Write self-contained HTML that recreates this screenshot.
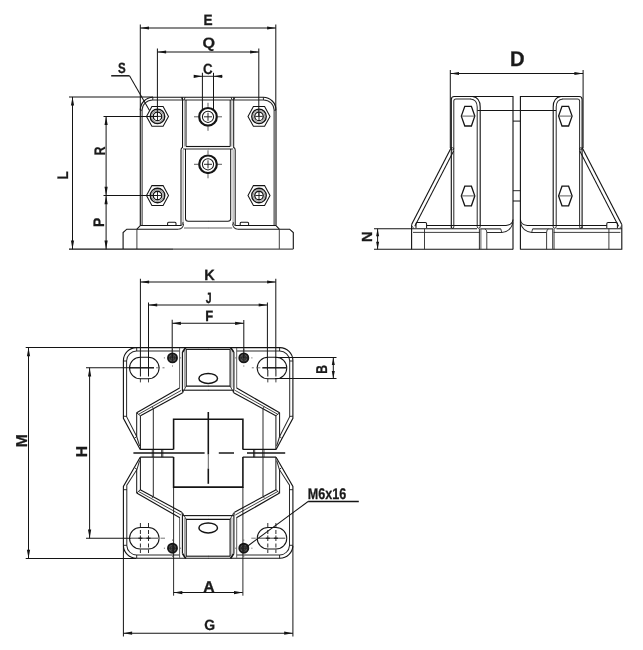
<!DOCTYPE html>
<html><head><meta charset="utf-8"><title>Drawing</title>
<style>
html,body{margin:0;padding:0;background:#fff;}
svg{display:block;will-change:transform;}
text{font-family:"Liberation Sans","DejaVu Sans",sans-serif;font-weight:bold;fill:#1a1a1a;stroke:#1a1a1a;stroke-width:0.3px;text-rendering:geometricPrecision;}
</style></head><body>
<svg width="643" height="650" viewBox="0 0 643 650">
<rect width="643" height="650" fill="#fff"/>
<path d="M123.1,249 V232.6 L126.8,229.2 H178.3" stroke="#141414" stroke-width="1.12" fill="none" />
<path d="M237.9,229.2 H289.6 L293.3,232.6 V249" stroke="#141414" stroke-width="1.12" fill="none" />
<line x1="136.90" y1="229.20" x2="136.90" y2="249.00" stroke="#2a2a2a" stroke-width="0.90" />
<line x1="279.30" y1="229.20" x2="279.30" y2="249.00" stroke="#2a2a2a" stroke-width="0.90" />
<line x1="69.00" y1="249.10" x2="173.00" y2="249.10" stroke="#141414" stroke-width="1.12" />
<line x1="173.00" y1="249.10" x2="293.30" y2="249.10" stroke="#4c4c4c" stroke-width="1.12" />
<path d="M136.9,229.2 L140.3,225.6 V110 A12.7,12.7 0 0 1 153,97.3 H263.3 A12.7,12.7 0 0 1 276,110 V225.6 L279.3,229.2" stroke="#141414" stroke-width="1.12" fill="none" />
<path d="M142.1,226 V110 A10.6,10.1 0 0 1 152.7,99.9 H263.5 A10.6,10.1 0 0 1 274.1,110 V226" stroke="#2a2a2a" stroke-width="1.01" fill="none" />
<line x1="152.90" y1="97.30" x2="152.70" y2="99.90" stroke="#141414" stroke-width="0.90" />
<line x1="263.30" y1="97.30" x2="263.50" y2="99.90" stroke="#141414" stroke-width="0.90" />
<line x1="140.30" y1="110.20" x2="142.10" y2="110.20" stroke="#141414" stroke-width="0.90" />
<line x1="274.10" y1="110.20" x2="276.00" y2="110.20" stroke="#141414" stroke-width="0.90" />
<line x1="140.30" y1="225.60" x2="181.00" y2="225.60" stroke="#141414" stroke-width="1.01" />
<line x1="235.20" y1="225.60" x2="276.00" y2="225.60" stroke="#141414" stroke-width="1.01" />
<line x1="182.50" y1="97.30" x2="182.50" y2="148.00" stroke="#141414" stroke-width="1.01" />
<line x1="184.30" y1="100.30" x2="184.30" y2="146.60" stroke="#808080" stroke-width="0.78" />
<line x1="186.00" y1="100.00" x2="186.00" y2="146.50" stroke="#141414" stroke-width="1.01" />
<line x1="186.00" y1="146.50" x2="208.20" y2="146.50" stroke="#141414" stroke-width="1.12" />
<line x1="183.00" y1="149.00" x2="208.20" y2="149.00" stroke="#2a2a2a" stroke-width="1.01" />
<path d="M182.5,147.5 Q181,148 181,150 V225.6" stroke="#141414" stroke-width="1.01" fill="none" />
<line x1="183.10" y1="150.00" x2="183.10" y2="223.00" stroke="#808080" stroke-width="0.78" />
<path d="M185.5,149 V218.5 Q185.5,221.3 188.3,221.3 H208.2" stroke="#141414" stroke-width="1.01" fill="none" />
<line x1="184.00" y1="228.00" x2="208.20" y2="228.00" stroke="#4c4c4c" stroke-width="0.90" />
<path d="M178.3,229.2 Q183.3,229 183.6,223.5" stroke="#2a2a2a" stroke-width="1.01" fill="none" />
<path d="M181,225.6 Q183,225 183.1,222" stroke="#2a2a2a" stroke-width="0.90" fill="none" />
<g transform="translate(416.20,0) scale(-1,1)">
<line x1="182.50" y1="97.30" x2="182.50" y2="148.00" stroke="#141414" stroke-width="1.01" />
<line x1="184.30" y1="100.30" x2="184.30" y2="146.60" stroke="#808080" stroke-width="0.78" />
<line x1="186.00" y1="100.00" x2="186.00" y2="146.50" stroke="#141414" stroke-width="1.01" />
<line x1="186.00" y1="146.50" x2="208.20" y2="146.50" stroke="#141414" stroke-width="1.12" />
<line x1="183.00" y1="149.00" x2="208.20" y2="149.00" stroke="#2a2a2a" stroke-width="1.01" />
<path d="M182.5,147.5 Q181,148 181,150 V225.6" stroke="#141414" stroke-width="1.01" fill="none" />
<line x1="183.10" y1="150.00" x2="183.10" y2="223.00" stroke="#808080" stroke-width="0.78" />
<path d="M185.5,149 V218.5 Q185.5,221.3 188.3,221.3 H208.2" stroke="#141414" stroke-width="1.01" fill="none" />
<line x1="184.00" y1="228.00" x2="208.20" y2="228.00" stroke="#4c4c4c" stroke-width="0.90" />
<path d="M178.3,229.2 Q183.3,229 183.6,223.5" stroke="#2a2a2a" stroke-width="1.01" fill="none" />
<path d="M181,225.6 Q183,225 183.1,222" stroke="#2a2a2a" stroke-width="0.90" fill="none" />
</g>
<line x1="181.30" y1="97.30" x2="182.50" y2="100.00" stroke="#141414" stroke-width="0.90" />
<line x1="185.20" y1="97.30" x2="184.00" y2="100.00" stroke="#141414" stroke-width="0.90" />
<line x1="231.00" y1="97.30" x2="232.20" y2="100.00" stroke="#141414" stroke-width="0.90" />
<line x1="234.90" y1="97.30" x2="233.70" y2="100.00" stroke="#141414" stroke-width="0.90" />
<path d="M167.6,225.6 V223.2 Q167.6,222.2 168.6,222.2 H175 Q176,222.2 176,223.2 V225.6" stroke="#141414" stroke-width="1.01" fill="none" />
<path d="M240.2,225.6 V223.2 Q240.2,222.2 241.2,222.2 H247.6 Q248.6,222.2 248.6,223.2 V225.6" stroke="#141414" stroke-width="1.01" fill="none" />
<polygon points="168.50,116.40 163.10,106.50 151.90,106.50 146.50,116.40 151.90,126.30 163.10,126.30" fill="none" stroke="#141414" stroke-width="1.05"/>
<circle cx="157.50" cy="116.40" r="7.25" stroke="#141414" stroke-width="1.40" fill="none"/>
<circle cx="157.50" cy="116.40" r="5.85" stroke="#4c4c4c" stroke-width="0.62" fill="none"/>
<circle cx="157.50" cy="116.40" r="4.25" stroke="#141414" stroke-width="1.29" fill="none"/>
<line x1="153.90" y1="116.40" x2="161.10" y2="116.40" stroke="#141414" stroke-width="0.90" />
<line x1="157.50" y1="112.80" x2="157.50" y2="120.00" stroke="#141414" stroke-width="0.90" />
<polygon points="168.50,195.50 163.10,185.60 151.90,185.60 146.50,195.50 151.90,205.40 163.10,205.40" fill="none" stroke="#141414" stroke-width="1.05"/>
<circle cx="157.50" cy="195.50" r="7.25" stroke="#141414" stroke-width="1.40" fill="none"/>
<circle cx="157.50" cy="195.50" r="5.85" stroke="#4c4c4c" stroke-width="0.62" fill="none"/>
<circle cx="157.50" cy="195.50" r="4.25" stroke="#141414" stroke-width="1.29" fill="none"/>
<line x1="153.90" y1="195.50" x2="161.10" y2="195.50" stroke="#141414" stroke-width="0.90" />
<line x1="157.50" y1="191.90" x2="157.50" y2="199.10" stroke="#141414" stroke-width="0.90" />
<polygon points="270.00,116.40 264.60,106.50 253.40,106.50 248.00,116.40 253.40,126.30 264.60,126.30" fill="none" stroke="#141414" stroke-width="1.05"/>
<circle cx="259.00" cy="116.40" r="7.25" stroke="#141414" stroke-width="1.40" fill="none"/>
<circle cx="259.00" cy="116.40" r="5.85" stroke="#4c4c4c" stroke-width="0.62" fill="none"/>
<circle cx="259.00" cy="116.40" r="4.25" stroke="#141414" stroke-width="1.29" fill="none"/>
<line x1="255.40" y1="116.40" x2="262.60" y2="116.40" stroke="#141414" stroke-width="0.90" />
<line x1="259.00" y1="112.80" x2="259.00" y2="120.00" stroke="#141414" stroke-width="0.90" />
<polygon points="270.00,195.50 264.60,185.60 253.40,185.60 248.00,195.50 253.40,205.40 264.60,205.40" fill="none" stroke="#141414" stroke-width="1.05"/>
<circle cx="259.00" cy="195.50" r="7.25" stroke="#141414" stroke-width="1.40" fill="none"/>
<circle cx="259.00" cy="195.50" r="5.85" stroke="#4c4c4c" stroke-width="0.62" fill="none"/>
<circle cx="259.00" cy="195.50" r="4.25" stroke="#141414" stroke-width="1.29" fill="none"/>
<line x1="255.40" y1="195.50" x2="262.60" y2="195.50" stroke="#141414" stroke-width="0.90" />
<line x1="259.00" y1="191.90" x2="259.00" y2="199.10" stroke="#141414" stroke-width="0.90" />
<circle cx="208.00" cy="116.80" r="8.80" stroke="#141414" stroke-width="2.24" fill="none"/>
<circle cx="208.00" cy="116.80" r="5.60" stroke="#141414" stroke-width="1.01" fill="none"/>
<line x1="204.00" y1="116.80" x2="212.00" y2="116.80" stroke="#141414" stroke-width="0.90" />
<line x1="208.00" y1="112.80" x2="208.00" y2="120.80" stroke="#141414" stroke-width="0.90" />
<line x1="218.00" y1="116.80" x2="222.00" y2="116.80" stroke="#4c4c4c" stroke-width="0.90" />
<line x1="198.00" y1="116.80" x2="194.00" y2="116.80" stroke="#4c4c4c" stroke-width="0.90" />
<line x1="208.00" y1="126.80" x2="208.00" y2="130.80" stroke="#4c4c4c" stroke-width="0.90" />
<line x1="208.00" y1="106.80" x2="208.00" y2="102.80" stroke="#4c4c4c" stroke-width="0.90" />
<circle cx="208.00" cy="164.30" r="8.80" stroke="#141414" stroke-width="2.24" fill="none"/>
<circle cx="208.00" cy="164.30" r="5.60" stroke="#141414" stroke-width="1.01" fill="none"/>
<line x1="204.00" y1="164.30" x2="212.00" y2="164.30" stroke="#141414" stroke-width="0.90" />
<line x1="208.00" y1="160.30" x2="208.00" y2="168.30" stroke="#141414" stroke-width="0.90" />
<line x1="218.00" y1="164.30" x2="222.00" y2="164.30" stroke="#4c4c4c" stroke-width="0.90" />
<line x1="198.00" y1="164.30" x2="194.00" y2="164.30" stroke="#4c4c4c" stroke-width="0.90" />
<line x1="208.00" y1="174.30" x2="208.00" y2="178.30" stroke="#4c4c4c" stroke-width="0.90" />
<line x1="208.00" y1="154.30" x2="208.00" y2="150.30" stroke="#4c4c4c" stroke-width="0.90" />
<line x1="140.30" y1="24.50" x2="140.30" y2="110.00" stroke="#141414" stroke-width="1.01" />
<line x1="275.80" y1="24.50" x2="275.80" y2="110.00" stroke="#141414" stroke-width="1.01" />
<line x1="140.30" y1="28.00" x2="275.80" y2="28.00" stroke="#141414" stroke-width="1.01" />
<polygon points="140.30,28.00 149.00,26.40 149.00,29.60" fill="#141414"/>
<polygon points="275.80,28.00 267.10,29.60 267.10,26.40" fill="#141414"/>
<line x1="157.40" y1="48.50" x2="157.40" y2="116.00" stroke="#141414" stroke-width="1.01" />
<line x1="258.80" y1="48.50" x2="258.80" y2="116.00" stroke="#141414" stroke-width="1.01" />
<line x1="157.40" y1="52.00" x2="258.80" y2="52.00" stroke="#141414" stroke-width="1.01" />
<polygon points="157.40,52.00 166.10,50.40 166.10,53.60" fill="#141414"/>
<polygon points="258.80,52.00 250.10,53.60 250.10,50.40" fill="#141414"/>
<line x1="202.40" y1="72.80" x2="202.40" y2="109.00" stroke="#141414" stroke-width="1.01" />
<line x1="213.50" y1="72.80" x2="213.50" y2="109.00" stroke="#141414" stroke-width="1.01" />
<line x1="194.00" y1="76.30" x2="222.40" y2="76.30" stroke="#141414" stroke-width="0.90" />
<polygon points="202.40,76.30 193.70,77.90 193.70,74.70" fill="#141414"/>
<polygon points="213.50,76.30 222.20,74.70 222.20,77.90" fill="#141414"/>
<line x1="111.20" y1="75.80" x2="129.50" y2="75.80" stroke="#141414" stroke-width="1.46" />
<line x1="129.50" y1="75.80" x2="149.50" y2="110.50" stroke="#141414" stroke-width="1.01" />
<line x1="69.00" y1="96.90" x2="153.00" y2="96.90" stroke="#141414" stroke-width="1.01" />
<line x1="72.50" y1="96.90" x2="72.50" y2="249.20" stroke="#141414" stroke-width="1.01" />
<polygon points="72.50,96.90 74.10,105.60 70.90,105.60" fill="#141414"/>
<polygon points="72.50,249.20 70.90,240.50 74.10,240.50" fill="#141414"/>
<line x1="103.50" y1="116.40" x2="157.40" y2="116.40" stroke="#141414" stroke-width="1.01" />
<line x1="103.50" y1="195.50" x2="157.40" y2="195.50" stroke="#141414" stroke-width="1.01" />
<line x1="106.10" y1="116.40" x2="106.10" y2="195.50" stroke="#141414" stroke-width="1.01" />
<polygon points="106.10,116.40 107.70,125.10 104.50,125.10" fill="#141414"/>
<polygon points="106.10,195.50 104.50,186.80 107.70,186.80" fill="#141414"/>
<line x1="106.10" y1="195.50" x2="106.10" y2="249.20" stroke="#141414" stroke-width="1.01" />
<polygon points="106.10,195.50 107.70,204.20 104.50,204.20" fill="#141414"/>
<polygon points="106.10,249.20 104.50,240.50 107.70,240.50" fill="#141414"/>
<path d="M451.3,228 V99.5 Q451.3,96.5 454.3,96.5 H513 V249.5" stroke="#141414" stroke-width="1.12" fill="none" />
<path d="M453.8,226.5 V101 Q453.8,99 456,99 H471" stroke="#2a2a2a" stroke-width="1.01" fill="none" />
<path d="M451.3,226.5 Q451.3,228.3 452.6,228.3 Q453.8,228.3 453.8,226.5" stroke="#141414" stroke-width="0.90" fill="none" />
<path d="M472.5,96.5 Q480.2,97.5 480.2,107 V226.5" stroke="#141414" stroke-width="1.12" fill="none" />
<path d="M470.5,99 Q477.2,99.5 477.2,107 V226.5" stroke="#2a2a2a" stroke-width="1.01" fill="none" />
<path d="M477.2,226.5 Q477.2,228.3 478.7,228.3 Q480.2,228.3 480.2,226.5" stroke="#141414" stroke-width="0.90" fill="none" />
<line x1="477.40" y1="110.50" x2="513.00" y2="110.50" stroke="#141414" stroke-width="1.01" />
<polygon points="461.30,116.10 464.80,106.40 471.40,106.40 474.80,116.10 471.40,126.00 464.80,126.00" fill="none" stroke="#141414" stroke-width="1.3"/>
<line x1="461.50" y1="116.10" x2="474.50" y2="116.10" stroke="#4c4c4c" stroke-width="0.90" />
<polygon points="461.30,195.90 464.80,186.20 471.40,186.20 474.80,195.90 471.40,205.80 464.80,205.80" fill="none" stroke="#141414" stroke-width="1.3"/>
<line x1="461.50" y1="195.90" x2="474.50" y2="195.90" stroke="#4c4c4c" stroke-width="0.90" />
<line x1="451.30" y1="147.50" x2="411.60" y2="224.50" stroke="#141414" stroke-width="1.12" />
<line x1="453.60" y1="151.00" x2="414.80" y2="226.20" stroke="#141414" stroke-width="1.01" />
<circle cx="452.60" cy="148.80" r="1.10" stroke="#141414" stroke-width="0.78" fill="none"/>
<path d="M411.6,224.5 V249.3 H513" stroke="#141414" stroke-width="1.12" fill="none" />
<line x1="411.60" y1="228.80" x2="477.00" y2="228.80" stroke="#141414" stroke-width="1.12" />
<line x1="480.30" y1="228.90" x2="500.80" y2="228.90" stroke="#141414" stroke-width="1.01" />
<path d="M484.9,228.9 Q486.8,229.5 486.8,232.4" stroke="#2a2a2a" stroke-width="0.90" fill="none" />
<line x1="413.00" y1="232.40" x2="479.80" y2="232.40" stroke="#2a2a2a" stroke-width="0.90" />
<path d="M486.8,232.4 H501.7 Q511,231.5 513,222.5" stroke="#2a2a2a" stroke-width="1.01" fill="none" />
<path d="M426.6,225.4 H506 Q512.6,225 513,219.5" stroke="#141414" stroke-width="1.01" fill="none" />
<line x1="500.80" y1="228.90" x2="501.70" y2="232.40" stroke="#2a2a2a" stroke-width="0.90" />
<line x1="424.50" y1="228.80" x2="424.50" y2="249.30" stroke="#2a2a2a" stroke-width="0.90" />
<line x1="479.40" y1="228.80" x2="479.40" y2="249.30" stroke="#141414" stroke-width="0.90" />
<line x1="480.90" y1="228.80" x2="480.90" y2="249.30" stroke="#4c4c4c" stroke-width="0.90" />
<line x1="486.80" y1="232.40" x2="486.80" y2="249.30" stroke="#2a2a2a" stroke-width="0.90" />
<path d="M416,228 V223.8 Q416,222.5 417.3,222.5 H425.3 Q426.6,222.5 426.6,223.8 V228" stroke="#141414" stroke-width="1.01" fill="none" />
<path d="M411.6,226 Q413.5,226.5 413.5,229" stroke="#4c4c4c" stroke-width="0.90" fill="none" />
<g transform="translate(1033.4,0) scale(-1,1)">
<path d="M451.3,228 V99.5 Q451.3,96.5 454.3,96.5 H513 V249.5" stroke="#141414" stroke-width="1.12" fill="none" />
<path d="M453.8,226.5 V101 Q453.8,99 456,99 H471" stroke="#2a2a2a" stroke-width="1.01" fill="none" />
<path d="M451.3,226.5 Q451.3,228.3 452.6,228.3 Q453.8,228.3 453.8,226.5" stroke="#141414" stroke-width="0.90" fill="none" />
<path d="M472.5,96.5 Q480.2,97.5 480.2,107 V226.5" stroke="#141414" stroke-width="1.12" fill="none" />
<path d="M470.5,99 Q477.2,99.5 477.2,107 V226.5" stroke="#2a2a2a" stroke-width="1.01" fill="none" />
<path d="M477.2,226.5 Q477.2,228.3 478.7,228.3 Q480.2,228.3 480.2,226.5" stroke="#141414" stroke-width="0.90" fill="none" />
<line x1="477.40" y1="110.50" x2="513.00" y2="110.50" stroke="#141414" stroke-width="1.01" />
<polygon points="461.30,116.10 464.80,106.40 471.40,106.40 474.80,116.10 471.40,126.00 464.80,126.00" fill="none" stroke="#141414" stroke-width="1.3"/>
<line x1="461.50" y1="116.10" x2="474.50" y2="116.10" stroke="#4c4c4c" stroke-width="0.90" />
<polygon points="461.30,195.90 464.80,186.20 471.40,186.20 474.80,195.90 471.40,205.80 464.80,205.80" fill="none" stroke="#141414" stroke-width="1.3"/>
<line x1="461.50" y1="195.90" x2="474.50" y2="195.90" stroke="#4c4c4c" stroke-width="0.90" />
<line x1="451.30" y1="147.50" x2="411.60" y2="224.50" stroke="#141414" stroke-width="1.12" />
<line x1="453.60" y1="151.00" x2="414.80" y2="226.20" stroke="#141414" stroke-width="1.01" />
<circle cx="452.60" cy="148.80" r="1.10" stroke="#141414" stroke-width="0.78" fill="none"/>
<path d="M411.6,224.5 V249.3 H513" stroke="#141414" stroke-width="1.12" fill="none" />
<line x1="411.60" y1="228.80" x2="477.00" y2="228.80" stroke="#141414" stroke-width="1.12" />
<line x1="480.30" y1="228.90" x2="500.80" y2="228.90" stroke="#141414" stroke-width="1.01" />
<path d="M484.9,228.9 Q486.8,229.5 486.8,232.4" stroke="#2a2a2a" stroke-width="0.90" fill="none" />
<line x1="413.00" y1="232.40" x2="479.80" y2="232.40" stroke="#2a2a2a" stroke-width="0.90" />
<path d="M486.8,232.4 H501.7 Q511,231.5 513,222.5" stroke="#2a2a2a" stroke-width="1.01" fill="none" />
<path d="M426.6,225.4 H506 Q512.6,225 513,219.5" stroke="#141414" stroke-width="1.01" fill="none" />
<line x1="500.80" y1="228.90" x2="501.70" y2="232.40" stroke="#2a2a2a" stroke-width="0.90" />
<line x1="424.50" y1="228.80" x2="424.50" y2="249.30" stroke="#2a2a2a" stroke-width="0.90" />
<line x1="479.40" y1="228.80" x2="479.40" y2="249.30" stroke="#141414" stroke-width="0.90" />
<line x1="480.90" y1="228.80" x2="480.90" y2="249.30" stroke="#4c4c4c" stroke-width="0.90" />
<line x1="486.80" y1="232.40" x2="486.80" y2="249.30" stroke="#2a2a2a" stroke-width="0.90" />
<path d="M416,228 V223.8 Q416,222.5 417.3,222.5 H425.3 Q426.6,222.5 426.6,223.8 V228" stroke="#141414" stroke-width="1.01" fill="none" />
<path d="M411.6,226 Q413.5,226.5 413.5,229" stroke="#4c4c4c" stroke-width="0.90" fill="none" />
</g>
<line x1="513.00" y1="110.50" x2="520.40" y2="110.50" stroke="#141414" stroke-width="0.90" />
<line x1="513.00" y1="121.10" x2="520.40" y2="121.10" stroke="#141414" stroke-width="1.01" />
<line x1="513.00" y1="190.70" x2="520.40" y2="190.70" stroke="#141414" stroke-width="0.90" />
<line x1="513.00" y1="201.00" x2="520.40" y2="201.00" stroke="#141414" stroke-width="1.01" />
<line x1="450.30" y1="70.00" x2="450.30" y2="148.00" stroke="#141414" stroke-width="1.01" />
<line x1="583.10" y1="70.00" x2="583.10" y2="148.00" stroke="#141414" stroke-width="1.01" />
<line x1="450.30" y1="73.50" x2="583.10" y2="73.50" stroke="#141414" stroke-width="1.01" />
<polygon points="450.30,73.50 459.00,71.90 459.00,75.10" fill="#141414"/>
<polygon points="583.10,73.50 574.40,75.10 574.40,71.90" fill="#141414"/>
<line x1="374.00" y1="228.80" x2="411.60" y2="228.80" stroke="#141414" stroke-width="1.01" />
<line x1="374.00" y1="249.30" x2="411.60" y2="249.30" stroke="#141414" stroke-width="1.01" />
<line x1="377.60" y1="228.80" x2="377.60" y2="249.30" stroke="#141414" stroke-width="1.01" />
<polygon points="377.60,228.80 379.10,236.30 376.10,236.30" fill="#141414"/>
<polygon points="377.60,249.30 376.10,241.80 379.10,241.80" fill="#141414"/>
<path d="M140.2,449.4 L123.4,418.3 V360.7 A13,13 0 0 1 136.7,347.6 H208.3" stroke="#141414" stroke-width="1.12" fill="none" />
<path d="M139.6,446 L136.7,436.5 L126.6,416.7 V360.7 A10,10 0 0 1 136.7,351.1 H179.6" stroke="#2a2a2a" stroke-width="1.01" fill="none" />
<line x1="123.40" y1="361.00" x2="126.60" y2="361.00" stroke="#141414" stroke-width="0.90" />
<line x1="136.70" y1="347.60" x2="136.70" y2="351.10" stroke="#141414" stroke-width="0.90" />
<line x1="123.40" y1="416.20" x2="126.60" y2="416.40" stroke="#141414" stroke-width="0.90" />
<line x1="134.70" y1="438.10" x2="136.70" y2="436.50" stroke="#141414" stroke-width="0.90" />
<line x1="136.70" y1="412.80" x2="179.60" y2="388.00" stroke="#141414" stroke-width="1.12" />
<line x1="138.50" y1="414.30" x2="181.20" y2="390.40" stroke="#2a2a2a" stroke-width="0.90" />
<line x1="140.50" y1="415.80" x2="182.60" y2="392.80" stroke="#141414" stroke-width="1.12" />
<path d="M136.7,412.8 L138.5,414.3 L140.5,415.8" stroke="#141414" stroke-width="0.90" fill="none" />
<line x1="136.70" y1="412.80" x2="136.70" y2="436.50" stroke="#141414" stroke-width="1.01" />
<line x1="140.40" y1="415.80" x2="140.40" y2="449.40" stroke="#141414" stroke-width="1.01" />
<line x1="153.30" y1="408.20" x2="153.30" y2="449.40" stroke="#2a2a2a" stroke-width="1.01" />
<line x1="153.30" y1="408.60" x2="152.00" y2="406.30" stroke="#2a2a2a" stroke-width="0.78" />
<line x1="179.60" y1="348.00" x2="179.60" y2="388.20" stroke="#4c4c4c" stroke-width="0.90" />
<path d="M182.4,352 V390 L183,392.6" stroke="#141414" stroke-width="1.12" fill="none" />
<line x1="184.40" y1="351.00" x2="184.40" y2="387.50" stroke="#808080" stroke-width="0.78" />
<path d="M186.2,349.4 V386.1 H208.3" stroke="#141414" stroke-width="1.12" fill="none" />
<line x1="186.00" y1="349.40" x2="208.30" y2="349.40" stroke="#141414" stroke-width="1.12" />
<line x1="182.60" y1="390.20" x2="208.30" y2="390.20" stroke="#141414" stroke-width="1.12" />
<line x1="186.20" y1="386.10" x2="182.60" y2="392.60" stroke="#2a2a2a" stroke-width="0.90" />
<line x1="182.60" y1="352.00" x2="185.80" y2="347.40" stroke="#141414" stroke-width="1.68" />
<line x1="140.20" y1="449.40" x2="173.50" y2="449.40" stroke="#141414" stroke-width="1.23" />
<line x1="140.20" y1="457.20" x2="173.50" y2="457.20" stroke="#141414" stroke-width="1.23" />
<line x1="152.30" y1="449.40" x2="152.30" y2="457.20" stroke="#141414" stroke-width="0.78" />
<line x1="153.60" y1="449.40" x2="153.60" y2="457.20" stroke="#141414" stroke-width="0.78" />
<line x1="161.60" y1="449.40" x2="161.60" y2="457.20" stroke="#141414" stroke-width="0.78" />
<line x1="162.80" y1="449.40" x2="162.80" y2="457.20" stroke="#141414" stroke-width="0.78" />
<path d="M140.2,457.2 L123.4,486.5 V545.6 A13,13 0 0 0 136.7,558.3 H208.3" stroke="#141414" stroke-width="1.12" fill="none" />
<path d="M139.6,460.5 L137,469.4 L126.8,485.2 V545.6 A10,10 0 0 0 136.7,555 H179.6" stroke="#2a2a2a" stroke-width="1.01" fill="none" />
<line x1="123.40" y1="545.30" x2="126.80" y2="545.30" stroke="#141414" stroke-width="0.90" />
<line x1="136.70" y1="558.30" x2="136.70" y2="555.00" stroke="#141414" stroke-width="0.90" />
<line x1="123.40" y1="489.70" x2="126.80" y2="489.70" stroke="#141414" stroke-width="0.90" />
<line x1="135.00" y1="468.00" x2="137.00" y2="469.40" stroke="#141414" stroke-width="0.90" />
<line x1="136.70" y1="469.40" x2="136.70" y2="493.00" stroke="#141414" stroke-width="1.01" />
<line x1="140.40" y1="457.20" x2="140.40" y2="490.00" stroke="#141414" stroke-width="1.01" />
<line x1="153.30" y1="457.20" x2="153.30" y2="495.90" stroke="#2a2a2a" stroke-width="1.01" />
<line x1="153.30" y1="495.90" x2="152.00" y2="498.20" stroke="#2a2a2a" stroke-width="0.78" />
<line x1="136.70" y1="493.10" x2="179.90" y2="517.80" stroke="#141414" stroke-width="1.12" />
<line x1="138.40" y1="491.40" x2="181.00" y2="515.00" stroke="#2a2a2a" stroke-width="0.90" />
<line x1="140.20" y1="489.80" x2="181.80" y2="512.20" stroke="#141414" stroke-width="1.12" />
<path d="M136.7,493.1 L138.4,491.4 L140.2,489.8" stroke="#141414" stroke-width="0.90" fill="none" />
<line x1="179.60" y1="517.80" x2="179.60" y2="557.80" stroke="#4c4c4c" stroke-width="0.90" />
<path d="M182.4,553.8 V515 L182,512.4" stroke="#141414" stroke-width="1.12" fill="none" />
<line x1="184.40" y1="518.00" x2="184.40" y2="555.00" stroke="#808080" stroke-width="0.78" />
<path d="M186.2,556.2 V519.4 H208.3" stroke="#141414" stroke-width="1.12" fill="none" />
<line x1="186.00" y1="556.20" x2="208.30" y2="556.20" stroke="#141414" stroke-width="1.12" />
<line x1="182.60" y1="515.60" x2="208.30" y2="515.60" stroke="#141414" stroke-width="1.12" />
<line x1="186.20" y1="519.40" x2="182.60" y2="512.80" stroke="#2a2a2a" stroke-width="0.90" />
<line x1="182.60" y1="553.80" x2="185.80" y2="558.40" stroke="#141414" stroke-width="1.68" />
<path d="M140.30,357.20 H148.30 A10.8,10.8 0 0 1 148.30,378.80 H140.30 A10.8,10.8 0 0 1 140.30,357.20 Z" stroke="#141414" stroke-width="1.01" fill="none" />
<path d="M140.30,527.40 H148.30 A10.8,10.8 0 0 1 148.30,549.00 H140.30 A10.8,10.8 0 0 1 140.30,527.40 Z" stroke="#141414" stroke-width="1.01" fill="none" />
<line x1="129.60" y1="367.80" x2="154.00" y2="367.80" stroke="#141414" stroke-width="1.46" />
<line x1="156.00" y1="367.80" x2="160.00" y2="367.80" stroke="#4c4c4c" stroke-width="0.78" />
<line x1="162.50" y1="367.80" x2="164.50" y2="367.80" stroke="#4c4c4c" stroke-width="0.78" />
<line x1="140.40" y1="370.00" x2="140.40" y2="376.50" stroke="#141414" stroke-width="1.01" />
<line x1="140.40" y1="378.30" x2="140.40" y2="382.40" stroke="#2a2a2a" stroke-width="0.90" />
<line x1="148.50" y1="370.00" x2="148.50" y2="376.50" stroke="#141414" stroke-width="1.01" />
<line x1="148.50" y1="378.30" x2="148.50" y2="382.40" stroke="#2a2a2a" stroke-width="0.90" />
<line x1="131.00" y1="538.20" x2="158.00" y2="538.20" stroke="#2a2a2a" stroke-width="0.90" />
<line x1="160.50" y1="538.20" x2="165.00" y2="538.20" stroke="#4c4c4c" stroke-width="0.78" />
<line x1="140.40" y1="523.00" x2="140.40" y2="527.50" stroke="#141414" stroke-width="0.90" />
<line x1="140.40" y1="530.00" x2="140.40" y2="534.00" stroke="#141414" stroke-width="0.90" />
<line x1="140.40" y1="535.50" x2="140.40" y2="541.00" stroke="#141414" stroke-width="0.90" />
<line x1="140.40" y1="543.50" x2="140.40" y2="547.50" stroke="#141414" stroke-width="0.90" />
<line x1="140.40" y1="549.50" x2="140.40" y2="553.00" stroke="#141414" stroke-width="0.90" />
<line x1="138.40" y1="538.20" x2="142.40" y2="538.20" stroke="#141414" stroke-width="1.12" />
<line x1="148.50" y1="523.00" x2="148.50" y2="527.50" stroke="#141414" stroke-width="0.90" />
<line x1="148.50" y1="530.00" x2="148.50" y2="534.00" stroke="#141414" stroke-width="0.90" />
<line x1="148.50" y1="535.50" x2="148.50" y2="541.00" stroke="#141414" stroke-width="0.90" />
<line x1="148.50" y1="543.50" x2="148.50" y2="547.50" stroke="#141414" stroke-width="0.90" />
<line x1="148.50" y1="549.50" x2="148.50" y2="553.00" stroke="#141414" stroke-width="0.90" />
<line x1="146.50" y1="538.20" x2="150.50" y2="538.20" stroke="#141414" stroke-width="1.12" />
<circle cx="172.50" cy="357.90" r="4.50" stroke="#161616" stroke-width="1.90" fill="#585858"/>
<line x1="168.90" y1="357.90" x2="176.10" y2="357.90" stroke="#222" stroke-width="0.90" />
<line x1="172.50" y1="354.30" x2="172.50" y2="361.50" stroke="#222" stroke-width="0.90" />
<circle cx="172.50" cy="357.90" r="2.30" stroke="#222" stroke-width="0.78" fill="none"/>
<line x1="180.10" y1="357.90" x2="181.10" y2="357.90" stroke="#4c4c4c" stroke-width="0.90" />
<line x1="164.90" y1="357.90" x2="163.90" y2="357.90" stroke="#4c4c4c" stroke-width="0.90" />
<line x1="172.50" y1="365.50" x2="172.50" y2="366.50" stroke="#4c4c4c" stroke-width="0.90" />
<line x1="172.50" y1="350.30" x2="172.50" y2="349.30" stroke="#4c4c4c" stroke-width="0.90" />
<circle cx="172.50" cy="548.20" r="4.50" stroke="#161616" stroke-width="1.90" fill="#585858"/>
<line x1="168.90" y1="548.20" x2="176.10" y2="548.20" stroke="#222" stroke-width="0.90" />
<line x1="172.50" y1="544.60" x2="172.50" y2="551.80" stroke="#222" stroke-width="0.90" />
<circle cx="172.50" cy="548.20" r="2.30" stroke="#222" stroke-width="0.78" fill="none"/>
<line x1="180.10" y1="548.20" x2="181.10" y2="548.20" stroke="#4c4c4c" stroke-width="0.90" />
<line x1="164.90" y1="548.20" x2="163.90" y2="548.20" stroke="#4c4c4c" stroke-width="0.90" />
<line x1="172.50" y1="555.80" x2="172.50" y2="556.80" stroke="#4c4c4c" stroke-width="0.90" />
<line x1="172.50" y1="540.60" x2="172.50" y2="539.60" stroke="#4c4c4c" stroke-width="0.90" />
<g transform="translate(416.30,0) scale(-1,1)">
<path d="M140.2,449.4 L123.4,418.3 V360.7 A13,13 0 0 1 136.7,347.6 H208.3" stroke="#141414" stroke-width="1.12" fill="none" />
<path d="M139.6,446 L136.7,436.5 L126.6,416.7 V360.7 A10,10 0 0 1 136.7,351.1 H179.6" stroke="#2a2a2a" stroke-width="1.01" fill="none" />
<line x1="123.40" y1="361.00" x2="126.60" y2="361.00" stroke="#141414" stroke-width="0.90" />
<line x1="136.70" y1="347.60" x2="136.70" y2="351.10" stroke="#141414" stroke-width="0.90" />
<line x1="123.40" y1="416.20" x2="126.60" y2="416.40" stroke="#141414" stroke-width="0.90" />
<line x1="134.70" y1="438.10" x2="136.70" y2="436.50" stroke="#141414" stroke-width="0.90" />
<line x1="136.70" y1="412.80" x2="179.60" y2="388.00" stroke="#141414" stroke-width="1.12" />
<line x1="138.50" y1="414.30" x2="181.20" y2="390.40" stroke="#2a2a2a" stroke-width="0.90" />
<line x1="140.50" y1="415.80" x2="182.60" y2="392.80" stroke="#141414" stroke-width="1.12" />
<path d="M136.7,412.8 L138.5,414.3 L140.5,415.8" stroke="#141414" stroke-width="0.90" fill="none" />
<line x1="136.70" y1="412.80" x2="136.70" y2="436.50" stroke="#141414" stroke-width="1.01" />
<line x1="140.40" y1="415.80" x2="140.40" y2="449.40" stroke="#141414" stroke-width="1.01" />
<line x1="153.30" y1="408.20" x2="153.30" y2="449.40" stroke="#2a2a2a" stroke-width="1.01" />
<line x1="153.30" y1="408.60" x2="152.00" y2="406.30" stroke="#2a2a2a" stroke-width="0.78" />
<line x1="179.60" y1="348.00" x2="179.60" y2="388.20" stroke="#4c4c4c" stroke-width="0.90" />
<path d="M182.4,352 V390 L183,392.6" stroke="#141414" stroke-width="1.12" fill="none" />
<line x1="184.40" y1="351.00" x2="184.40" y2="387.50" stroke="#808080" stroke-width="0.78" />
<path d="M186.2,349.4 V386.1 H208.3" stroke="#141414" stroke-width="1.12" fill="none" />
<line x1="186.00" y1="349.40" x2="208.30" y2="349.40" stroke="#141414" stroke-width="1.12" />
<line x1="182.60" y1="390.20" x2="208.30" y2="390.20" stroke="#141414" stroke-width="1.12" />
<line x1="186.20" y1="386.10" x2="182.60" y2="392.60" stroke="#2a2a2a" stroke-width="0.90" />
<line x1="182.60" y1="352.00" x2="185.80" y2="347.40" stroke="#141414" stroke-width="1.68" />
<line x1="140.20" y1="449.40" x2="173.50" y2="449.40" stroke="#141414" stroke-width="1.23" />
<line x1="140.20" y1="457.20" x2="173.50" y2="457.20" stroke="#141414" stroke-width="1.23" />
<line x1="152.30" y1="449.40" x2="152.30" y2="457.20" stroke="#141414" stroke-width="0.78" />
<line x1="153.60" y1="449.40" x2="153.60" y2="457.20" stroke="#141414" stroke-width="0.78" />
<line x1="161.60" y1="449.40" x2="161.60" y2="457.20" stroke="#141414" stroke-width="0.78" />
<line x1="162.80" y1="449.40" x2="162.80" y2="457.20" stroke="#141414" stroke-width="0.78" />
<path d="M140.2,457.2 L123.4,486.5 V545.6 A13,13 0 0 0 136.7,558.3 H208.3" stroke="#141414" stroke-width="1.12" fill="none" />
<path d="M139.6,460.5 L137,469.4 L126.8,485.2 V545.6 A10,10 0 0 0 136.7,555 H179.6" stroke="#2a2a2a" stroke-width="1.01" fill="none" />
<line x1="123.40" y1="545.30" x2="126.80" y2="545.30" stroke="#141414" stroke-width="0.90" />
<line x1="136.70" y1="558.30" x2="136.70" y2="555.00" stroke="#141414" stroke-width="0.90" />
<line x1="123.40" y1="489.70" x2="126.80" y2="489.70" stroke="#141414" stroke-width="0.90" />
<line x1="135.00" y1="468.00" x2="137.00" y2="469.40" stroke="#141414" stroke-width="0.90" />
<line x1="136.70" y1="469.40" x2="136.70" y2="493.00" stroke="#141414" stroke-width="1.01" />
<line x1="140.40" y1="457.20" x2="140.40" y2="490.00" stroke="#141414" stroke-width="1.01" />
<line x1="153.30" y1="457.20" x2="153.30" y2="495.90" stroke="#2a2a2a" stroke-width="1.01" />
<line x1="153.30" y1="495.90" x2="152.00" y2="498.20" stroke="#2a2a2a" stroke-width="0.78" />
<line x1="136.70" y1="493.10" x2="179.90" y2="517.80" stroke="#141414" stroke-width="1.12" />
<line x1="138.40" y1="491.40" x2="181.00" y2="515.00" stroke="#2a2a2a" stroke-width="0.90" />
<line x1="140.20" y1="489.80" x2="181.80" y2="512.20" stroke="#141414" stroke-width="1.12" />
<path d="M136.7,493.1 L138.4,491.4 L140.2,489.8" stroke="#141414" stroke-width="0.90" fill="none" />
<line x1="179.60" y1="517.80" x2="179.60" y2="557.80" stroke="#4c4c4c" stroke-width="0.90" />
<path d="M182.4,553.8 V515 L182,512.4" stroke="#141414" stroke-width="1.12" fill="none" />
<line x1="184.40" y1="518.00" x2="184.40" y2="555.00" stroke="#808080" stroke-width="0.78" />
<path d="M186.2,556.2 V519.4 H208.3" stroke="#141414" stroke-width="1.12" fill="none" />
<line x1="186.00" y1="556.20" x2="208.30" y2="556.20" stroke="#141414" stroke-width="1.12" />
<line x1="182.60" y1="515.60" x2="208.30" y2="515.60" stroke="#141414" stroke-width="1.12" />
<line x1="186.20" y1="519.40" x2="182.60" y2="512.80" stroke="#2a2a2a" stroke-width="0.90" />
<line x1="182.60" y1="553.80" x2="185.80" y2="558.40" stroke="#141414" stroke-width="1.68" />
<path d="M140.30,357.20 H148.30 A10.8,10.8 0 0 1 148.30,378.80 H140.30 A10.8,10.8 0 0 1 140.30,357.20 Z" stroke="#141414" stroke-width="1.01" fill="none" />
<path d="M140.30,527.40 H148.30 A10.8,10.8 0 0 1 148.30,549.00 H140.30 A10.8,10.8 0 0 1 140.30,527.40 Z" stroke="#141414" stroke-width="1.01" fill="none" />
<line x1="129.60" y1="367.80" x2="154.00" y2="367.80" stroke="#141414" stroke-width="1.46" />
<line x1="156.00" y1="367.80" x2="160.00" y2="367.80" stroke="#4c4c4c" stroke-width="0.78" />
<line x1="162.50" y1="367.80" x2="164.50" y2="367.80" stroke="#4c4c4c" stroke-width="0.78" />
<line x1="140.40" y1="370.00" x2="140.40" y2="376.50" stroke="#141414" stroke-width="1.01" />
<line x1="140.40" y1="378.30" x2="140.40" y2="382.40" stroke="#2a2a2a" stroke-width="0.90" />
<line x1="148.50" y1="370.00" x2="148.50" y2="376.50" stroke="#141414" stroke-width="1.01" />
<line x1="148.50" y1="378.30" x2="148.50" y2="382.40" stroke="#2a2a2a" stroke-width="0.90" />
<line x1="131.00" y1="538.20" x2="158.00" y2="538.20" stroke="#2a2a2a" stroke-width="0.90" />
<line x1="160.50" y1="538.20" x2="165.00" y2="538.20" stroke="#4c4c4c" stroke-width="0.78" />
<line x1="140.40" y1="523.00" x2="140.40" y2="527.50" stroke="#141414" stroke-width="0.90" />
<line x1="140.40" y1="530.00" x2="140.40" y2="534.00" stroke="#141414" stroke-width="0.90" />
<line x1="140.40" y1="535.50" x2="140.40" y2="541.00" stroke="#141414" stroke-width="0.90" />
<line x1="140.40" y1="543.50" x2="140.40" y2="547.50" stroke="#141414" stroke-width="0.90" />
<line x1="140.40" y1="549.50" x2="140.40" y2="553.00" stroke="#141414" stroke-width="0.90" />
<line x1="138.40" y1="538.20" x2="142.40" y2="538.20" stroke="#141414" stroke-width="1.12" />
<line x1="148.50" y1="523.00" x2="148.50" y2="527.50" stroke="#141414" stroke-width="0.90" />
<line x1="148.50" y1="530.00" x2="148.50" y2="534.00" stroke="#141414" stroke-width="0.90" />
<line x1="148.50" y1="535.50" x2="148.50" y2="541.00" stroke="#141414" stroke-width="0.90" />
<line x1="148.50" y1="543.50" x2="148.50" y2="547.50" stroke="#141414" stroke-width="0.90" />
<line x1="148.50" y1="549.50" x2="148.50" y2="553.00" stroke="#141414" stroke-width="0.90" />
<line x1="146.50" y1="538.20" x2="150.50" y2="538.20" stroke="#141414" stroke-width="1.12" />
<circle cx="172.50" cy="357.90" r="4.50" stroke="#161616" stroke-width="1.90" fill="#585858"/>
<line x1="168.90" y1="357.90" x2="176.10" y2="357.90" stroke="#222" stroke-width="0.90" />
<line x1="172.50" y1="354.30" x2="172.50" y2="361.50" stroke="#222" stroke-width="0.90" />
<circle cx="172.50" cy="357.90" r="2.30" stroke="#222" stroke-width="0.78" fill="none"/>
<line x1="180.10" y1="357.90" x2="181.10" y2="357.90" stroke="#4c4c4c" stroke-width="0.90" />
<line x1="164.90" y1="357.90" x2="163.90" y2="357.90" stroke="#4c4c4c" stroke-width="0.90" />
<line x1="172.50" y1="365.50" x2="172.50" y2="366.50" stroke="#4c4c4c" stroke-width="0.90" />
<line x1="172.50" y1="350.30" x2="172.50" y2="349.30" stroke="#4c4c4c" stroke-width="0.90" />
<circle cx="172.50" cy="548.20" r="4.50" stroke="#161616" stroke-width="1.90" fill="#585858"/>
<line x1="168.90" y1="548.20" x2="176.10" y2="548.20" stroke="#222" stroke-width="0.90" />
<line x1="172.50" y1="544.60" x2="172.50" y2="551.80" stroke="#222" stroke-width="0.90" />
<circle cx="172.50" cy="548.20" r="2.30" stroke="#222" stroke-width="0.78" fill="none"/>
<line x1="180.10" y1="548.20" x2="181.10" y2="548.20" stroke="#4c4c4c" stroke-width="0.90" />
<line x1="164.90" y1="548.20" x2="163.90" y2="548.20" stroke="#4c4c4c" stroke-width="0.90" />
<line x1="172.50" y1="555.80" x2="172.50" y2="556.80" stroke="#4c4c4c" stroke-width="0.90" />
<line x1="172.50" y1="540.60" x2="172.50" y2="539.60" stroke="#4c4c4c" stroke-width="0.90" />
</g>
<ellipse cx="208.20" cy="378.40" rx="9.30" ry="5.00" stroke="#141414" stroke-width="1.46" fill="none"/>
<ellipse cx="208.20" cy="527.90" rx="9.30" ry="5.00" stroke="#141414" stroke-width="1.46" fill="none"/>
<path d="M173.6,449.5 V419.2 H242.9 V449.5" stroke="#141414" stroke-width="1.57" fill="none" />
<path d="M173.6,457 V487.1 H242.9 V457" stroke="#141414" stroke-width="1.57" fill="none" />
<line x1="133.40" y1="453.00" x2="204.60" y2="453.00" stroke="#141414" stroke-width="1.46" />
<line x1="218.80" y1="453.00" x2="234.00" y2="453.00" stroke="#141414" stroke-width="1.46" />
<line x1="247.00" y1="453.00" x2="285.20" y2="453.00" stroke="#141414" stroke-width="1.46" />
<line x1="208.30" y1="412.00" x2="208.30" y2="454.40" stroke="#141414" stroke-width="1.57" />
<line x1="208.30" y1="454.40" x2="208.30" y2="468.60" stroke="#4c4c4c" stroke-width="0.90" />
<line x1="208.30" y1="468.60" x2="208.30" y2="483.80" stroke="#141414" stroke-width="1.57" />
<line x1="140.40" y1="278.70" x2="140.40" y2="370.00" stroke="#141414" stroke-width="1.01" />
<line x1="275.80" y1="278.70" x2="275.80" y2="370.00" stroke="#141414" stroke-width="1.01" />
<line x1="140.40" y1="282.00" x2="275.80" y2="282.00" stroke="#141414" stroke-width="1.01" />
<polygon points="140.40,282.00 149.10,280.40 149.10,283.60" fill="#141414"/>
<polygon points="275.80,282.00 267.10,283.60 267.10,280.40" fill="#141414"/>
<line x1="148.50" y1="302.50" x2="148.50" y2="370.00" stroke="#141414" stroke-width="1.01" />
<line x1="267.40" y1="302.50" x2="267.40" y2="370.00" stroke="#141414" stroke-width="1.01" />
<line x1="148.50" y1="305.00" x2="267.40" y2="305.00" stroke="#141414" stroke-width="1.01" />
<polygon points="148.50,305.00 157.20,303.40 157.20,306.60" fill="#141414"/>
<polygon points="267.40,305.00 258.70,306.60 258.70,303.40" fill="#141414"/>
<line x1="172.20" y1="319.80" x2="172.20" y2="357.90" stroke="#141414" stroke-width="1.01" />
<line x1="243.80" y1="320.00" x2="243.80" y2="357.90" stroke="#141414" stroke-width="1.01" />
<line x1="172.20" y1="323.30" x2="243.80" y2="323.30" stroke="#141414" stroke-width="1.01" />
<polygon points="172.20,323.30 180.90,321.70 180.90,324.90" fill="#141414"/>
<polygon points="243.80,323.30 235.10,324.90 235.10,321.70" fill="#141414"/>
<line x1="275.00" y1="357.40" x2="336.50" y2="357.40" stroke="#141414" stroke-width="1.01" />
<line x1="275.00" y1="378.60" x2="336.50" y2="378.60" stroke="#141414" stroke-width="1.01" />
<line x1="333.30" y1="357.40" x2="333.30" y2="378.60" stroke="#141414" stroke-width="1.01" />
<polygon points="333.30,357.40 334.80,364.90 331.80,364.90" fill="#141414"/>
<polygon points="333.30,378.60 331.80,371.10 334.80,371.10" fill="#141414"/>
<line x1="25.70" y1="347.60" x2="136.00" y2="347.60" stroke="#141414" stroke-width="1.01" />
<line x1="25.70" y1="558.50" x2="136.00" y2="558.50" stroke="#141414" stroke-width="1.01" />
<line x1="28.50" y1="347.60" x2="28.50" y2="558.50" stroke="#141414" stroke-width="1.01" />
<polygon points="28.50,347.60 30.10,356.30 26.90,356.30" fill="#141414"/>
<polygon points="28.50,558.50 26.90,549.80 30.10,549.80" fill="#141414"/>
<line x1="86.00" y1="367.80" x2="131.00" y2="367.80" stroke="#141414" stroke-width="1.01" />
<line x1="86.00" y1="538.20" x2="131.00" y2="538.20" stroke="#141414" stroke-width="1.01" />
<line x1="89.60" y1="367.80" x2="89.60" y2="538.20" stroke="#141414" stroke-width="1.01" />
<polygon points="89.60,367.80 91.20,376.50 88.00,376.50" fill="#141414"/>
<polygon points="89.60,538.20 88.00,529.50 91.20,529.50" fill="#141414"/>
<line x1="173.60" y1="487.00" x2="173.60" y2="595.70" stroke="#141414" stroke-width="0.90" />
<line x1="242.90" y1="487.00" x2="242.90" y2="595.70" stroke="#141414" stroke-width="0.90" />
<line x1="173.60" y1="592.60" x2="242.70" y2="592.60" stroke="#141414" stroke-width="1.01" />
<polygon points="173.60,592.60 182.30,591.00 182.30,594.20" fill="#141414"/>
<polygon points="242.70,592.60 234.00,594.20 234.00,591.00" fill="#141414"/>
<line x1="123.40" y1="546.00" x2="123.40" y2="636.50" stroke="#141414" stroke-width="1.01" />
<line x1="292.90" y1="546.00" x2="292.90" y2="636.50" stroke="#141414" stroke-width="1.01" />
<line x1="123.40" y1="633.20" x2="292.90" y2="633.20" stroke="#141414" stroke-width="1.01" />
<polygon points="123.40,633.20 132.10,631.60 132.10,634.80" fill="#141414"/>
<polygon points="292.90,633.20 284.20,634.80 284.20,631.60" fill="#141414"/>
<line x1="308.10" y1="501.50" x2="358.80" y2="501.50" stroke="#141414" stroke-width="1.34" />
<line x1="308.10" y1="501.50" x2="246.50" y2="547.00" stroke="#141414" stroke-width="1.01" />
<text id="t_E" x="0" y="0" font-size="14.82" text-anchor="middle" transform="translate(207.94 25.40) rotate(0) scale(0.920 1)" >E</text>
<text id="t_Q" x="0" y="0" font-size="14.82" text-anchor="middle" transform="translate(208.70 47.59) rotate(0) scale(1.090 1)" >Q</text>
<text id="t_C" x="0" y="0" font-size="14.82" text-anchor="middle" transform="translate(207.70 74.27) rotate(0) scale(0.900 1)" >C</text>
<text id="t_S" x="0" y="0" font-size="14.82" text-anchor="middle" transform="translate(121.92 73.39) rotate(0) scale(0.780 1)" >S</text>
<text id="t_L" x="0" y="0" font-size="15.21" text-anchor="middle" transform="translate(68.32 175.25) rotate(-90) scale(0.890 1)" >L</text>
<text id="t_R" x="0" y="0" font-size="15.21" text-anchor="middle" transform="translate(104.67 150.95) rotate(-90) scale(0.790 1)" >R</text>
<text id="t_P" x="0" y="0" font-size="15.21" text-anchor="middle" transform="translate(104.46 222.26) rotate(-90) scale(0.920 1)" >P</text>
<text id="t_D" x="0" y="0" font-size="21.16" text-anchor="middle" transform="translate(517.28 66.48) rotate(0) scale(0.955 1)" >D</text>
<text id="t_N" x="0" y="0" font-size="14.62" text-anchor="middle" transform="translate(371.98 236.66) rotate(-90) scale(1.000 1)" >N</text>
<text id="t_K" x="0" y="0" font-size="14.82" text-anchor="middle" transform="translate(209.59 279.98) rotate(0) scale(0.980 1)" >K</text>
<text id="t_J" x="0" y="0" font-size="14.82" text-anchor="middle" transform="translate(208.68 302.58) rotate(0) scale(0.710 1)" >J</text>
<text id="t_F" x="0" y="0" font-size="14.82" text-anchor="middle" transform="translate(209.36 320.50) rotate(0) scale(0.880 1)" >F</text>
<text id="t_B" x="0" y="0" font-size="15.60" text-anchor="middle" transform="translate(326.94 369.46) rotate(-90) scale(0.780 1)" >B</text>
<text id="t_M" x="0" y="0" font-size="15.79" text-anchor="middle" transform="translate(26.63 440.79) rotate(-90) scale(1.000 1)" >M</text>
<text id="t_H" x="0" y="0" font-size="15.79" text-anchor="middle" transform="translate(86.67 451.49) rotate(-90) scale(1.000 1)" >H</text>
<text id="t_A" x="0" y="0" font-size="15.79" text-anchor="middle" transform="translate(208.83 591.80) rotate(0) scale(1.000 1)" >A</text>
<text id="t_G" x="0" y="0" font-size="14.82" text-anchor="middle" transform="translate(209.69 629.73) rotate(0) scale(0.940 1)" >G</text>
<text id="t_M6x16" x="0" y="0" font-size="15.41" text-anchor="start" transform="translate(307.75 498.55) rotate(0) scale(1.000 1)" textLength="38.4" lengthAdjust="spacingAndGlyphs">M6x16</text>
</svg>
</body></html>
